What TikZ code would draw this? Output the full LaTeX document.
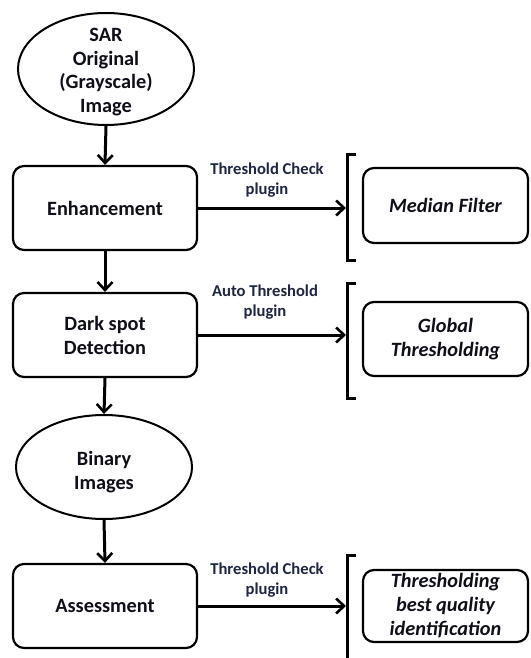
\documentclass[tikz,border=0pt]{standalone}
\usepackage{fontspec}
\setmainfont{Carlito}
\usetikzlibrary{shapes.geometric,arrows.meta}
\definecolor{labelcol}{RGB}{30,38,66}
\definecolor{maintext}{RGB}{15,15,25}
\begin{document}
\begin{tikzpicture}[x=1pt,y=-1pt,
  ovalbox/.style={ellipse,draw,line width=2pt,minimum width=176pt,minimum height=112pt,inner sep=0pt},
  ovaltext/.style={align=center,font=\fontsize{20.3}{23.5}\selectfont\bfseries,text=maintext,inner sep=0pt},
  stepbox/.style={draw,line width=2.2pt,rounded corners=11pt,minimum width=184pt,minimum height=84pt,align=center,font=\fontsize{20.3}{24}\selectfont\bfseries,text=maintext,inner sep=0pt},
  methodbox/.style={draw,line width=2.2pt,rounded corners=11pt,minimum width=165pt,align=center,font=\fontsize{20.3}{24}\selectfont\bfseries\itshape,text=maintext,inner sep=0pt},
  flow/.style={line width=3pt,-{Straight Barb[length=8pt,width=15pt,line width=2.6pt]}},
  bracketline/.style={line width=3pt},
  plugintext/.style={align=center,font=\fontsize{16.6}{20}\selectfont\bfseries,text=labelcol,inner sep=0pt}
]
\useasboundingbox (0,0) rectangle (530,658);

% left column
\node[ovalbox] (sar) at (106,69) {};
\node[ovaltext] (sartext) at (106,72) {SAR\\Original\\(Grayscale)\\Image};
\node[stepbox] (enh) at (105,208) {Enhancement};
\node[stepbox] (dark) at (105,335) {Dark spot\\Detection};
\node[ovalbox,minimum height=104pt] (bin) at (104,467) {};
\node[ovaltext] (bintext) at (104,472) {Binary\\Images};
\node[stepbox] (ass) at (105,606) {Assessment};

\draw[flow] (sar.south) -- (enh.north);
\draw[flow] (enh.south) -- (dark.north);
\draw[flow] (dark.south) -- (bin.north);
\draw[flow] (bin.south) -- (ass.north);

% right column
\node[methodbox,minimum height=75pt] (med) at (445.5,205.5) {Median Filter};
\node[methodbox,minimum height=74pt] (glob) at (445.5,339) {Global\\Thresholding};
\node[methodbox,minimum height=72pt] (best) at (445.5,606) {Thresholding\\best quality\\identification};

% brackets
\draw[bracketline] (356,154) -- (347,154) -- (347,260) -- (356,260);
\draw[bracketline] (356,283) -- (347,283) -- (347,398) -- (356,398);
\draw[bracketline] (356,555) -- (347,555) -- (347,660);

\coordinate (b1) at (346,208);
\coordinate (b2) at (346,335);
\coordinate (b3) at (346,606);

\draw[flow] (enh.east) -- (b1);
\draw[flow] (dark.east) -- (b2);
\draw[flow] (ass.east) -- (b3);

\node[plugintext] (l1) at (267,180) {Threshold Check\\plugin};
\node[plugintext] (l2) at (265,302) {Auto Threshold\\plugin};
\node[plugintext] (l3) at (267,580) {Threshold Check\\plugin};
\end{tikzpicture}
\end{document}
